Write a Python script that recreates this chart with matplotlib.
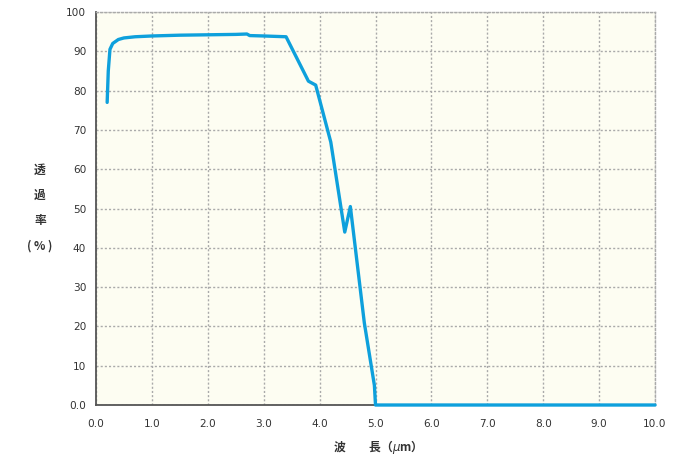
import numpy as np
import matplotlib.pyplot as plt

plt.rcParams['font.family'] = ['Noto Sans CJK JP', 'DejaVu Sans']

# 波長 (µm) と 透過率 (%)
wavelength = [0.2, 0.22, 0.25, 0.3, 0.4, 0.5, 0.7, 1.0, 1.5, 2.0, 2.5, 2.7, 2.75,
              3.0, 3.4, 3.8, 3.93, 4.2, 4.45, 4.55, 4.8, 4.98, 5.0, 10.0]
transmit = [77, 85, 90.5, 92.0, 93.0, 93.4, 93.7, 93.9, 94.1, 94.2, 94.3, 94.4, 94.0,
            93.9, 93.7, 82.4, 81.4, 66.9, 44.0, 50.5, 20.9, 5.0, 0.0, 0.0]

xticks = np.arange(0, 11, 1)
yticks = np.arange(0, 101, 10)
xlabels = ['%.1f' % v for v in xticks]
ylabels = ['0.0'] + [str(v) for v in yticks[1:]]

fig = plt.figure(figsize=(6.97, 4.58), dpi=100)
ax = fig.add_axes([0.1377, 0.1157, 0.8021, 0.8581])
ax.set_facecolor('#fdfdf2')

ax.plot(wavelength, transmit, color='#0ea0dc', lw=2.4, solid_joinstyle='round',
        solid_capstyle='round', zorder=3, clip_on=False)

ax.set_xlim(0, 10)
ax.set_ylim(0, 100)
ax.set_xticks(xticks)
ax.set_xticklabels(xlabels, family='DejaVu Sans')
ax.set_yticks(yticks)
ax.set_yticklabels(ylabels, family='DejaVu Sans')
ax.tick_params(length=0, labelsize=7.6, colors='#333333', pad=10)
ax.tick_params(axis='y', pad=7)

ax.grid(True, color='#aaaaaa', linestyle=(0, (1.5, 1.5)), lw=1.0)
for s in ['top', 'right']:
    ax.spines[s].set_color('#aaaaaa')
    ax.spines[s].set_linestyle((0, (1.5, 1.5)))
    ax.spines[s].set_linewidth(1.0)
for s in ['left', 'bottom']:
    ax.spines[s].set_color('#555555')
    ax.spines[s].set_linewidth(1.3)

# 縦書き風の軸ラベル
for i, t in enumerate(['透', '過', '率', '( % )']):
    fig.text(40 / 697, 1 - (170 + 25.5 * i) / 458, t, ha='center', va='center',
             fontsize=8.5, color='#333333', fontweight='bold')

fig.text(375 / 697, 1 - 447 / 458, '波　　長（$\\mu$m）', ha='center', va='center',
         fontsize=8.5, color='#333333', fontweight='bold')

plt.savefig('out.png', dpi=100)
